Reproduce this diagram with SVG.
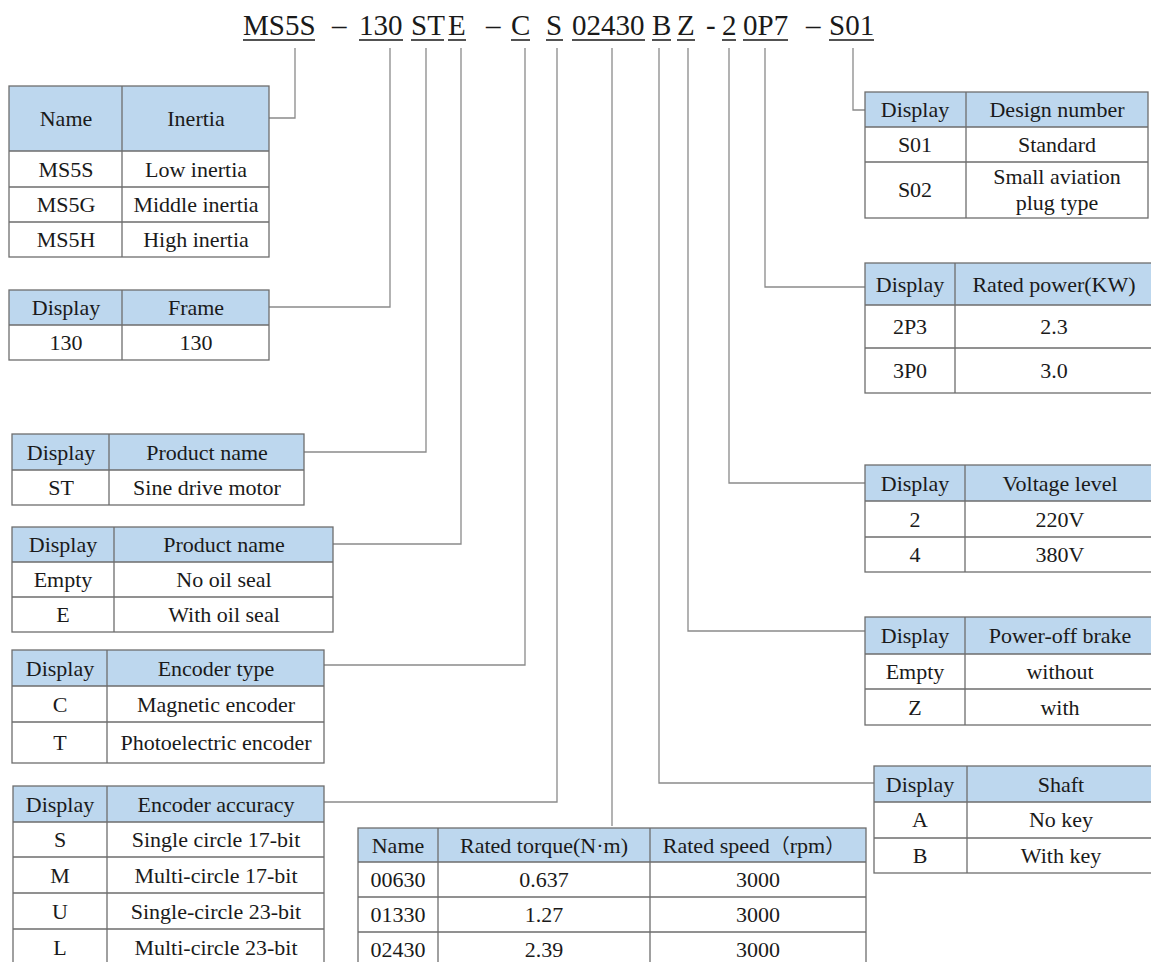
<svg xmlns="http://www.w3.org/2000/svg" width="1151" height="962" viewBox="0 0 1151 962">
<style>
.t{font-family:"Liberation Serif",serif;font-size:22px;fill:#1a1a1a;text-anchor:middle}
.cjk{font-family:"Noto Sans CJK SC",sans-serif;font-size:20px}
.h{fill:#BDD7EE}
.b{fill:none;stroke:#6e6e6e;stroke-width:1.3}
.c{fill:none;stroke:#8a8a8a;stroke-width:1.3}
.code{font-family:"Liberation Serif",serif;font-size:29px;fill:#1a1a1a}
.u{stroke:#1a1a1a;stroke-width:1.4}
</style>
<rect width="1151" height="962" fill="#ffffff"/>
<g id="code">
<text class="code" x="243" y="35">MS5S</text>
<text class="code" x="332" y="35">–</text>
<text class="code" x="359" y="35">130</text>
<text class="code" x="411" y="35">ST</text>
<text class="code" x="448" y="35">E</text>
<text class="code" x="486" y="35">–</text>
<text class="code" x="511" y="35">C</text>
<text class="code" x="546" y="35">S</text>
<text class="code" x="572" y="35">02430</text>
<text class="code" x="652" y="35">B</text>
<text class="code" x="677" y="35">Z</text>
<text class="code" x="706" y="35">-</text>
<text class="code" x="722" y="35">2</text>
<text class="code" x="743" y="35">0P7</text>
<text class="code" x="806" y="35">–</text>
<text class="code" x="829" y="35">S01</text>
<path class="u" d="M243 40H315M359 40H403M411 40H444M448 40H466M511 40H530M546 40H563M572 40H645M652 40H671M677 40H695M722 40H736M743 40H788M829 40H874"/>
</g>
<g id="connectors">
<polyline class="c" points="295,48 295,118 269,118"/>
<polyline class="c" points="390,48 390,307 269,307"/>
<polyline class="c" points="426,48 426,452 304,452"/>
<polyline class="c" points="461,48 461,544 333,544"/>
<polyline class="c" points="525,48 525,665 324,665"/>
<polyline class="c" points="557,48 557,802 324,802"/>
<polyline class="c" points="612,48 612,826"/>
<polyline class="c" points="659,48 659,783 874,783"/>
<polyline class="c" points="688,48 688,631 865,631"/>
<polyline class="c" points="729,48 729,483 865,483"/>
<polyline class="c" points="765,48 765,287 865,287"/>
<polyline class="c" points="853,48 853,110 865,110"/>
</g>
<g id="t-inertia">
<rect class="h" x="9" y="86" width="260" height="65"/>
<rect class="b" x="9" y="86" width="260" height="171"/>
<path class="b" d="M9 151H269M9 187H269M9 222H269M122 86V257"/>
<text class="t" x="66" y="126">Name</text><text class="t" x="196" y="126">Inertia</text>
<text class="t" x="66" y="177">MS5S</text><text class="t" x="196" y="177">Low inertia</text>
<text class="t" x="66" y="212">MS5G</text><text class="t" x="196" y="212">Middle inertia</text>
<text class="t" x="66" y="247">MS5H</text><text class="t" x="196" y="247">High inertia</text>
</g>
<g id="t-frame">
<rect class="h" x="9" y="290" width="260" height="35"/>
<rect class="b" x="9" y="290" width="260" height="70"/>
<path class="b" d="M9 325H269M122 290V360"/>
<text class="t" x="66" y="315">Display</text><text class="t" x="196" y="315">Frame</text>
<text class="t" x="66" y="350">130</text><text class="t" x="196" y="350">130</text>
</g>
<g id="t-product">
<rect class="h" x="12" y="434" width="292" height="36"/>
<rect class="b" x="12" y="434" width="292" height="71"/>
<path class="b" d="M12 470H304M109 434V505"/>
<text class="t" x="61" y="460">Display</text><text class="t" x="207" y="460">Product name</text>
<text class="t" x="61" y="495">ST</text><text class="t" x="207" y="495">Sine drive motor</text>
</g>
<g id="t-oilseal">
<rect class="h" x="12" y="527" width="321" height="35"/>
<rect class="b" x="12" y="527" width="321" height="105"/>
<path class="b" d="M12 562H333M12 597H333M114 527V632"/>
<text class="t" x="63" y="552">Display</text><text class="t" x="224" y="552">Product name</text>
<text class="t" x="63" y="587">Empty</text><text class="t" x="224" y="587">No oil seal</text>
<text class="t" x="63" y="622">E</text><text class="t" x="224" y="622">With oil seal</text>
</g>
<g id="t-encoder-type">
<rect class="h" x="12" y="650" width="312" height="36"/>
<rect class="b" x="12" y="650" width="312" height="113"/>
<path class="b" d="M12 686H324M12 722H324M107 650V763"/>
<text class="t" x="60" y="676">Display</text><text class="t" x="216" y="676">Encoder type</text>
<text class="t" x="60" y="712">C</text><text class="t" x="216" y="712">Magnetic encoder</text>
<text class="t" x="60" y="750">T</text><text class="t" x="216" y="750">Photoelectric encoder</text>
</g>
<g id="t-encoder-accuracy">
<rect class="h" x="13" y="786" width="311" height="36"/>
<rect class="b" x="13" y="786" width="311" height="180"/>
<path class="b" d="M13 822H324M13 857H324M13 893H324M13 929H324M107 786V966"/>
<text class="t" x="60" y="812">Display</text><text class="t" x="216" y="812">Encoder accuracy</text>
<text class="t" x="60" y="847">S</text><text class="t" x="216" y="847">Single circle 17-bit</text>
<text class="t" x="60" y="883">M</text><text class="t" x="216" y="883">Multi-circle 17-bit</text>
<text class="t" x="60" y="919">U</text><text class="t" x="216" y="919">Single-circle 23-bit</text>
<text class="t" x="60" y="955">L</text><text class="t" x="216" y="955">Multi-circle 23-bit</text>
</g>
<g id="t-torque">
<rect class="h" x="358" y="828" width="508" height="34"/>
<rect class="b" x="358" y="828" width="508" height="140"/>
<path class="b" d="M358 862H866M358 897H866M358 932H866M438 828V968M650 828V968"/>
<text class="t" x="398" y="853">Name</text><text class="t" x="544" y="853">Rated torque(N·m)</text><text class="t" x="754" y="853">Rated speed<tspan class="cjk">（</tspan>rpm<tspan class="cjk">）</tspan></text>
<text class="t" x="398" y="887">00630</text><text class="t" x="544" y="887">0.637</text><text class="t" x="758" y="887">3000</text>
<text class="t" x="398" y="922">01330</text><text class="t" x="544" y="922">1.27</text><text class="t" x="758" y="922">3000</text>
<text class="t" x="398" y="957">02430</text><text class="t" x="544" y="957">2.39</text><text class="t" x="758" y="957">3000</text>
</g>
<g id="t-shaft">
<rect class="h" x="874" y="766" width="280" height="36"/>
<rect class="b" x="874" y="766" width="280" height="107"/>
<path class="b" d="M874 802H1154M874 838H1154M967 766V873"/>
<text class="t" x="920" y="792">Display</text><text class="t" x="1061" y="792">Shaft</text>
<text class="t" x="920" y="827">A</text><text class="t" x="1061" y="827">No key</text>
<text class="t" x="920" y="863">B</text><text class="t" x="1061" y="863">With key</text>
</g>
<g id="t-brake">
<rect class="h" x="865" y="617" width="289" height="37"/>
<rect class="b" x="865" y="617" width="289" height="108"/>
<path class="b" d="M865 654H1154M865 689H1154M965 617V725"/>
<text class="t" x="915" y="643">Display</text><text class="t" x="1060" y="643">Power-off brake</text>
<text class="t" x="915" y="679">Empty</text><text class="t" x="1060" y="679">without</text>
<text class="t" x="915" y="715">Z</text><text class="t" x="1060" y="715">with</text>
</g>
<g id="t-voltage">
<rect class="h" x="865" y="465" width="289" height="36"/>
<rect class="b" x="865" y="465" width="289" height="107"/>
<path class="b" d="M865 501H1154M865 537H1154M965 465V572"/>
<text class="t" x="915" y="491">Display</text><text class="t" x="1060" y="491">Voltage level</text>
<text class="t" x="915" y="527">2</text><text class="t" x="1060" y="527">220V</text>
<text class="t" x="915" y="562">4</text><text class="t" x="1060" y="562">380V</text>
</g>
<g id="t-power">
<rect class="h" x="865" y="263" width="289" height="42"/>
<rect class="b" x="865" y="263" width="289" height="130"/>
<path class="b" d="M865 305H1154M865 348H1154M955 263V393"/>
<text class="t" x="910" y="292">Display</text><text class="t" x="1054" y="292">Rated power(KW)</text>
<text class="t" x="910" y="334">2P3</text><text class="t" x="1054" y="334">2.3</text>
<text class="t" x="910" y="378">3P0</text><text class="t" x="1054" y="378">3.0</text>
</g>
<g id="t-design">
<rect class="h" x="865" y="92" width="283" height="35"/>
<rect class="b" x="865" y="92" width="283" height="126"/>
<path class="b" d="M865 127H1148M865 162H1148M966 92V218"/>
<text class="t" x="915" y="117">Display</text><text class="t" x="1057" y="117">Design number</text>
<text class="t" x="915" y="152">S01</text><text class="t" x="1057" y="152">Standard</text>
<text class="t" x="915" y="197">S02</text><text class="t" x="1057" y="184">Small aviation</text><text class="t" x="1057" y="210">plug type</text>
</g>
</svg>
